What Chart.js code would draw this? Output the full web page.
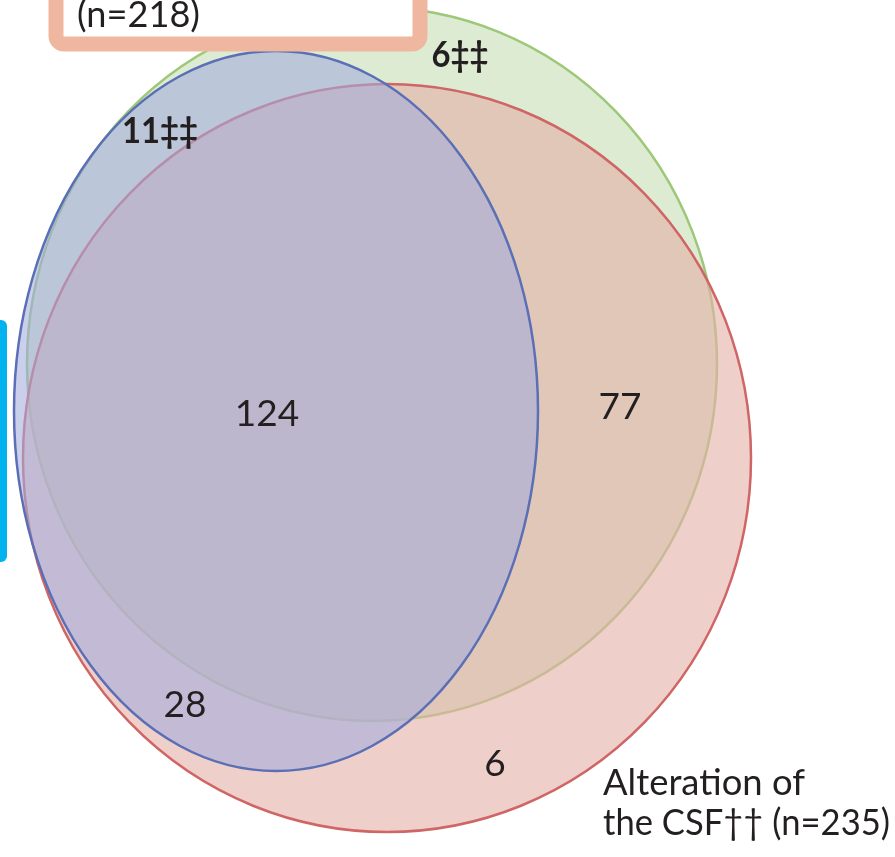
<!DOCTYPE html>
<html>
<head>
<meta charset="utf-8">
<script src="https://cdn.jsdelivr.net/npm/chart.js@4.4.1/dist/chart.umd.min.js"></script>
<style>
  html, body { margin: 0; padding: 0; background: #ffffff; }
  #wrap { width: 895px; height: 857px; }
</style>
</head>
<body>
<div id="wrap"><canvas id="venn" width="895" height="857"></canvas></div>
<script>
// Region counts of the three-set Venn diagram
const regionNames  = ['set A only', 'A and B', 'A, B and CSF', 'A and CSF', 'B and CSF', 'CSF only'];
const regionCounts = [6, 11, 124, 77, 28, 6];
const regionMarks  = ['‡‡', '‡‡', '', '', '', ''];
const regionBold   = [true, true, false, false, false, false];

// Set totals shown in the set captions
const setNames  = ['A', 'B', 'CSF'];
const setTotals = [218, null, 235];

// Layout (scale units): ellipse geometry per set (A, CSF, B), drawn in that order
const ellipseCx = [372, 387, 276];
const ellipseCy = [364, 458, 411];
const ellipseRx = [345, 364, 262];
const ellipseRy = [357, 374, 360];
const ellipseFill   = ['rgba(187,215,167,0.5)', 'rgba(227,177,168,0.62)', 'rgba(164,172,222,0.58)'];
const ellipseStroke = ['#9cc878', '#cf6565', '#5a6fb5'];

// Layout: count label anchors and widest allowed text
const regionX = [460, 160, 267, 620, 185, 495];
const regionY = [55, 131, 414, 407, 705, 764];
const regionMaxW = [57, 76, 70, 50, 50, 30];

const FONT = 'Lato, "Open Sans", sans-serif';

const ellipsePlugin = {
  id: 'vennEllipses',
  beforeDatasetsDraw(chart) {
    const { ctx, scales: { x, y } } = chart;
    ellipseCx.forEach((ex, i) => {
      const cx = x.getPixelForValue(ex);
      const cy = y.getPixelForValue(ellipseCy[i]);
      const rx = Math.abs(x.getPixelForValue(ex + ellipseRx[i]) - cx);
      const ry = Math.abs(y.getPixelForValue(ellipseCy[i] + ellipseRy[i]) - cy);
      ctx.save();
      ctx.beginPath();
      ctx.ellipse(cx, cy, rx, ry, 0, 0, Math.PI * 2);
      ctx.fillStyle = ellipseFill[i];
      ctx.fill();
      ctx.lineWidth = 2.5;
      ctx.strokeStyle = ellipseStroke[i];
      ctx.stroke();
      ctx.restore();
    });
  },
  afterDatasetsDraw(chart) {
    const { ctx, scales: { x, y } } = chart;
    ctx.save();
    ctx.fillStyle = '#231f20';
    ctx.textAlign = 'center';
    ctx.textBaseline = 'middle';
    regionCounts.forEach((v, i) => {
      ctx.font = (regionBold[i] ? '700 ' : '400 ') + '37px ' + FONT;
      ctx.fillText(String(v) + regionMarks[i], x.getPixelForValue(regionX[i]), y.getPixelForValue(regionY[i]), regionMaxW[i]);
    });

    // caption box of set A (upper part runs off the top edge)
    ctx.beginPath();
    ctx.roundRect(56, -60, 364, 104, 8);
    ctx.fillStyle = '#ffffff';
    ctx.fill();
    ctx.lineWidth = 15;
    ctx.strokeStyle = '#f0b7a0';
    ctx.stroke();

    ctx.fillStyle = '#231f20';
    ctx.textAlign = 'left';
    ctx.textBaseline = 'alphabetic';
    ctx.font = '400 37px ' + FONT;
    ctx.fillText('(n=' + setTotals[0] + ')', 77, 27, 123);

    // caption of the CSF set
    ctx.fillText('Alteration of', 603, 795, 202);
    ctx.fillText('the CSF\u2020\u2020 (n=' + setTotals[2] + ')', 603, 835, 287);

    // side marker bar
    ctx.beginPath();
    ctx.roundRect(-8, 320, 15, 242, 6);
    ctx.fillStyle = '#00b2ee';
    ctx.fill();
    ctx.restore();
  }
};

new Chart(document.getElementById('venn'), {
  type: 'scatter',
  data: {
    datasets: [{
      label: 'regions',
      data: regionX.map((vx, i) => ({ x: vx, y: regionY[i] })),
      pointRadius: 0,
      pointHoverRadius: 0
    }]
  },
  options: {
    responsive: false,
    animation: false,
    devicePixelRatio: 1,
    layout: { padding: 0 },
    plugins: { legend: { display: false }, tooltip: { enabled: false } },
    scales: {
      x: { type: 'linear', min: 0, max: 895, display: false },
      y: { type: 'linear', min: 0, max: 857, reverse: true, display: false }
    }
  },
  plugins: [ellipsePlugin]
});
</script>
</body>
</html>
